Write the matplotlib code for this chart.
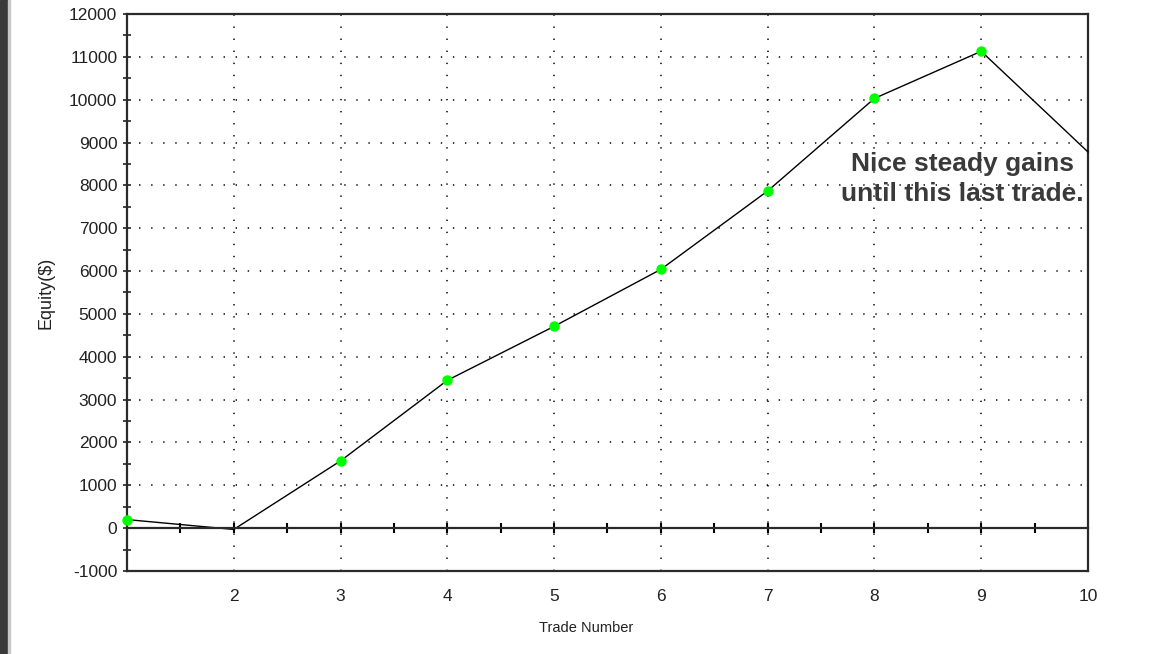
import numpy as np
import matplotlib
matplotlib.use("Agg")
import matplotlib.pyplot as plt
from matplotlib.patches import Rectangle

plt.rcParams['font.family'] = ['Liberation Sans', 'DejaVu Sans']
plt.rcParams['axes.unicode_minus'] = False

# equity curve per trade
trades = [1, 2, 3, 4, 5, 6, 7, 8, 9, 10]
equity = [200, -30, 1570, 3450, 4710, 6040, 7870, 10030, 11130, 8780]
marked = [0, 2, 3, 4, 5, 6, 7, 8]  # trades that show a green dot
xtick_labels = ['', '2', '3', '4', '5', '6', '7', '8', '9', '10']
yticks = list(range(-1000, 12001, 1000))
note = "Nice steady gains\nuntil this last trade."

fig = plt.figure(figsize=(11.49, 6.54), dpi=100)
ax = fig.add_axes([127/1149, 1 - 571/654, 961/1149, 557/654])

ax.plot(trades, equity, color='black', lw=1.0, zorder=3,
        marker='o', markevery=marked, markersize=6.5,
        markerfacecolor='#00ff00', markeredgecolor='#00ff00', clip_on=False)

ax.set_xlim(1, 10)
ax.set_ylim(-1000, 12000)
ax.set_xticks(trades)
ax.set_xticklabels(xtick_labels)
ax.set_yticks(yticks)
ax.set_yticks(np.arange(-500, 12000, 1000), minor=True)
ax.tick_params(axis='x', length=0, pad=13, labelsize=12.5, colors='#222')
ax.tick_params(axis='y', which='both', direction='inout', length=6, width=1.2,
               pad=4, labelsize=12.5, colors='#222')

# dotted grid (skip edges)
for x in trades[1:-1]:
    ax.axvline(x, color='black', lw=1.1, linestyle=(0, (0.9, 7)), zorder=1)
for y in yticks[2:-1]:
    ax.axhline(y, color='black', lw=1.1, linestyle=(0, (0.9, 7)), zorder=1)

for s in ax.spines.values():
    s.set_color('#2a2a2a')
    s.set_linewidth(1.6)

# zero line with its own ticks
ax2 = ax.twiny()
ax2.set_xlim(1, 10)
for k in ['top', 'left', 'right']:
    ax2.spines[k].set_visible(False)
ax2.spines['bottom'].set_position(('data', 0))
ax2.spines['bottom'].set_linewidth(1.6)
ax2.spines['bottom'].set_color('#2a2a2a')
ax2.xaxis.set_ticks_position('bottom')
ax2.set_xticks(np.arange(1.5, 10, 0.5))
ax2.tick_params(axis='x', direction='inout', length=7, width=1.5, labelbottom=False)

ax.set_ylabel('Equity($)', fontsize=13, color='#222')
ax.yaxis.set_label_coords(-0.075, 0.5)
ax.set_xlabel('Trade Number', fontsize=10.5, color='#222', va='top')
ax.xaxis.set_label_coords(0.478, -0.09)

ax.text(8.82, 8150, note, ha='center', va='center', fontsize=19,
        fontweight='bold', color='#3a3a3a', linespacing=1.3, zorder=5)

fig.patches.append(Rectangle((0, 0), 8/1149, 1, transform=fig.transFigure,
                             color='#3a3a3a', zorder=0))
fig.patches.append(Rectangle((8/1149, 0), 2/1149, 1, transform=fig.transFigure,
                             color='#c8c8c8', zorder=0))

fig.savefig('out.png', dpi=100)
